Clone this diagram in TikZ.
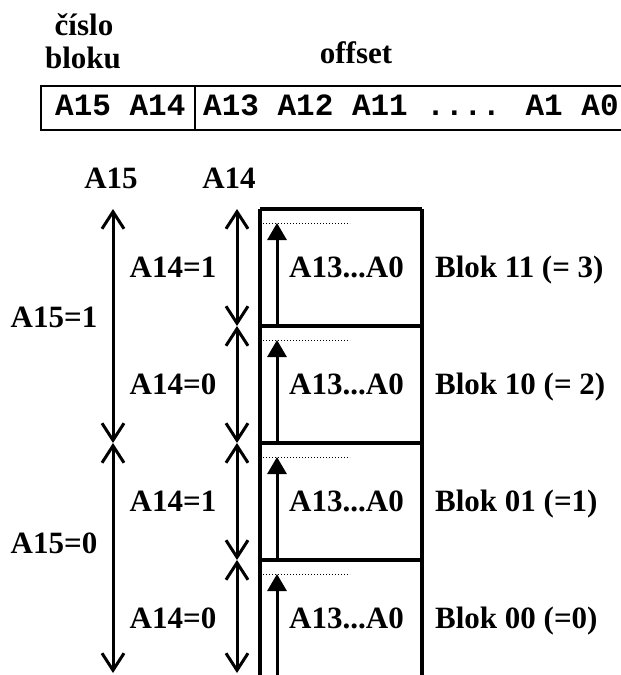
\documentclass[tikz,border=0pt]{standalone}
\usepackage{fontspec}
\setmainfont{Liberation Serif}
\newfontfamily\regfont{Liberation Mono}
\usetikzlibrary{arrows.meta}

\begin{document}
\begin{tikzpicture}[x=1pt,y=-1pt,
  lbl/.style={font=\fontsize{31}{36}\selectfont\bfseries, inner sep=0pt, anchor=base},
  regtext/.style={font=\regfont\fontsize{31}{36}\selectfont\bfseries, inner sep=0pt, anchor=base west},
  reg/.style={line width=2pt},
  wall/.style={line width=3.4pt},
  span/.style={line width=3pt, {Straight Barb[length=17pt,width=22pt,line width=3pt]}-{Straight Barb[length=17pt,width=22pt,line width=3pt]}},
  walk/.style={line width=3pt, -{Triangle[length=17pt,width=19pt]}},
  topline/.style={line width=1pt, dotted}
]
\useasboundingbox (0,0) rectangle (621,675);

% address register
\coordinate (rTL) at (41,86);
\coordinate (rBL) at (41,130);
\coordinate (rTR) at (630,86);
\coordinate (rBR) at (630,130);
\coordinate (rDT) at (195,86);
\coordinate (rDB) at (195,130);
\draw[reg] (rTR) -- (rTL) -- (rBL) -- (rBR);
\draw[reg] (rDT) -- (rDB);
\node[regtext] (hi) at (55,115) {A15 A14};
\node[regtext] (lo) at (203,115) {A13 A12 A11 .... A1 A0};

% field captions
\node[lbl] (cap1) at (84,35) {číslo};
\node[lbl] (cap2) at (83,68) {bloku};
\node[lbl] (cap3) at (356,63) {offset};

% axis captions
\node[lbl] (tA15) at (111,188) {A15};
\node[lbl] (tA14) at (229,188) {A14};

% block boundaries
\foreach \n/\y in {0/209,1/326,2/443,3/560}{
  \coordinate (L\n) at (260,\y);
  \coordinate (R\n) at (422,\y);
  \coordinate (p\n) at (113,\y);
  \coordinate (q\n) at (237,\y);
}
\coordinate (L4) at (260,680);
\coordinate (R4) at (422,680);
\coordinate (p4) at (113,673);
\coordinate (q4) at (237,673);

\draw[wall] (L0) -- (L4);
\draw[wall] (R0) -- (R4);
\foreach \n in {0,1,2,3}{ \draw[wall] (L\n) -- (R\n); }

% A15 spans
\draw[span] (p0) -- (p2);
\draw[span] (p2) -- (p4);
% A14 spans
\foreach \a/\b in {0/1,1/2,2/3,3/4}{ \draw[span] (q\a) -- (q\b); }

% offset walks inside each block
\foreach \n/\y/\z in {0/209/326,1/326/443,2/443/560,3/560/680}{
  \coordinate (s\n) at (277,\z);
  \coordinate (e\n) at (277,\y+14);
  \coordinate (d\n) at (263,\y+14);
  \coordinate (f\n) at (350,\y+14);
  \draw[topline] (d\n) -- (f\n);
  \draw[walk] (s\n) -- (e\n);
}

% labels
\node[lbl] (k1) at (173,277) {A14=1};
\node[lbl] (k2) at (173,394) {A14=0};
\node[lbl] (k3) at (173,511) {A14=1};
\node[lbl] (k4) at (173,628) {A14=0};
\node[lbl] (h1) at (54,327) {A15=1};
\node[lbl] (h2) at (54,553) {A15=0};

\foreach \n/\y in {1/277,2/394,3/511,4/628}{
  \node[lbl] (o\n) at (346.5,\y) {A13...A0};
}
\node[lbl, anchor=base west] (b1) at (435,277) {Blok 11 (= 3)};
\node[lbl, anchor=base west] (b2) at (435,394) {Blok 10 (= 2)};
\node[lbl, anchor=base west] (b3) at (435,511) {Blok 01 (=1)};
\node[lbl, anchor=base west] (b4) at (435,628) {Blok 00 (=0)};
\end{tikzpicture}
\end{document}
